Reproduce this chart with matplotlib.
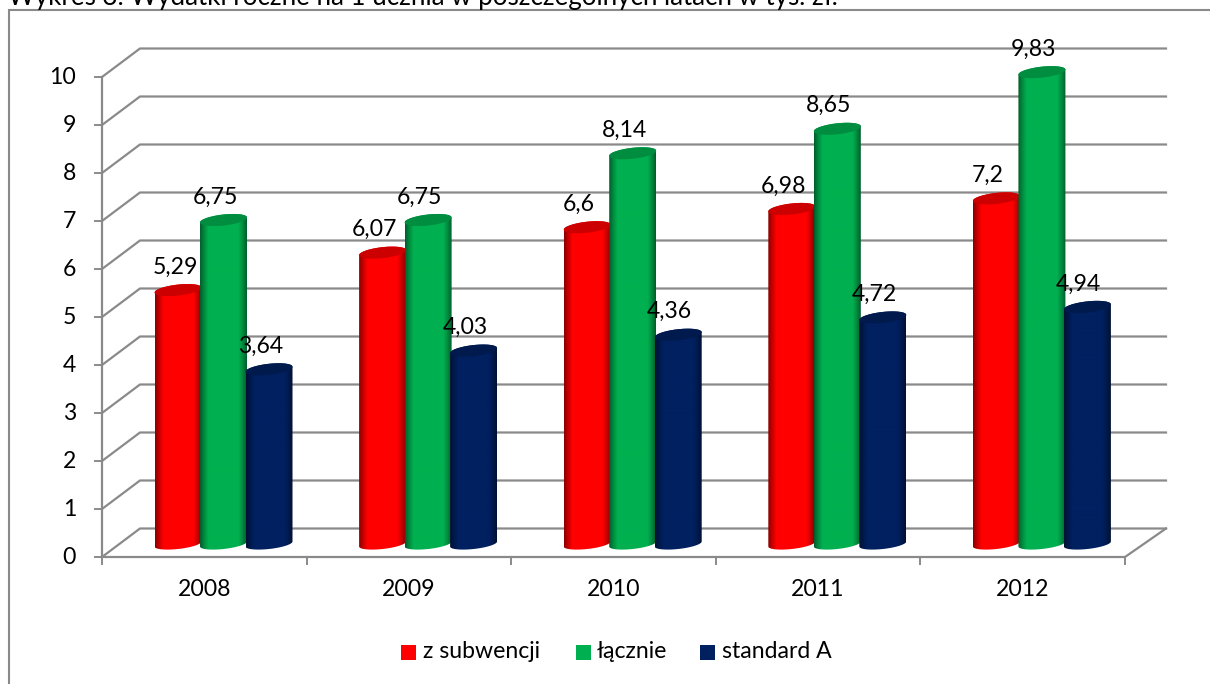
import numpy as np
import matplotlib
matplotlib.use('Agg')
import matplotlib.pyplot as plt
from matplotlib.path import Path
from matplotlib.patches import PathPatch, Polygon, Rectangle

years = ['2008', '2009', '2010', '2011', '2012']
subwencja = [5.29, 6.07, 6.6, 6.98, 7.2]
lacznie = [6.75, 6.75, 8.14, 8.65, 9.83]
standard = [3.64, 4.03, 4.36, 4.72, 4.94]
value_labels = [['5,29', '6,07', '6,6', '6,98', '7,2'],
                ['6,75', '6,75', '8,14', '8,65', '9,83'],
                ['3,64', '4,03', '4,36', '4,72', '4,94']]
series_names = ['z subwencji', 'łącznie', 'standard A']
colors = ['#ff0000', '#00b050', '#002060']
y_ticks = list(range(0, 11))
title = 'Wykres 3. Wydatki roczne na 1 ucznia w poszczególnych latach w tys. zł.'

W, H = 1210, 684
GRAY = '#8a8a8a'
plt.rcParams['font.family'] = ['Lato', 'DejaVu Sans']
FS = 16.6

fig = plt.figure(figsize=(W / 100, H / 100), dpi=100)
# axes = front plane of the 3d box
ax = fig.add_axes([102 / W, 1 - 557 / H, 1023 / W, 480 / H])
ax.set_xlim(0, 5)
ax.set_ylim(0, 10)
ax.axis('off')

px = 5 / 1023    # one pixel in x data units
py = 10 / 480    # one pixel in y data units
depth_y = 28.5 * py


def shade(color, f):
    return np.array(matplotlib.colors.to_rgb(color)) * f


def cylinder(x0, val, color):
    w = 47 * px
    cx = x0 + w / 2
    base = 13 * py
    t = np.linspace(0, 2 * np.pi, 80)
    ex = cx + w / 2 * np.cos(t)
    top = val + base + 5.5 * py * np.sin(t) + 2.5 * py * np.cos(t)

    # side of the cylinder, horizontal gradient clipped to the outline
    lower = t[t >= np.pi]
    xs = cx + w / 2 * np.cos(lower)
    ys = base + 5 * py * np.sin(lower) + 2.5 * py * np.cos(lower)
    upper = t[t <= np.pi]
    xu = cx + w / 2 * np.cos(upper)
    yu = val + base + 5.5 * py * np.sin(upper) + 2.5 * py * np.cos(upper)
    outline = Path(np.column_stack([np.r_[xs, xu], np.r_[ys, yu]]))

    g = np.linspace(-1, 1, 47)
    f = 0.55 + 0.45 * np.minimum(1, (1 - g ** 2) * 1.7)
    img = np.outer(f, shade(color, 1)).reshape(1, 47, 3)
    im = ax.imshow(img, extent=[cx - w / 2, cx + w / 2, base - 6 * py, val + base + 6 * py],
                   aspect='auto', zorder=5, interpolation='bilinear')
    patch = PathPatch(outline, fc='none', ec='none', transform=ax.transData)
    ax.add_patch(patch)
    im.set_clip_box(fig.bbox)
    im.set_clip_path(patch)
    ax.add_patch(Polygon(np.column_stack([ex, top]), fc=shade(color, 0.8), ec='none', zorder=5,
                         clip_on=False))
    ax.set_xlim(0, 5)
    ax.set_ylim(0, 10)


# back wall gridlines and wall diagonals
for v in y_ticks:
    ax.plot([0, 38 * px, 5 + 41 * px], [v, v + depth_y, v + depth_y],
            color=GRAY, lw=1.6, clip_on=False, zorder=1)
    ax.plot([-7 * px, 0], [v, v], color=GRAY, lw=1.4, clip_on=False, zorder=1)
    ax.text(-26 * px, v, str(v), ha='right', va='center', fontsize=FS, zorder=6)
ax.plot([0, 0], [0, 10], color=GRAY, lw=1.6, clip_on=False, zorder=1)
ax.plot([0, 5, 5 + 41 * px], [0, 0, depth_y], color=GRAY, lw=1.6, clip_on=False, zorder=1)
for i in range(6):
    ax.plot([i, i], [0, -7 * py], color=GRAY, lw=1.4, clip_on=False, zorder=1)

for s, vals in enumerate([subwencja, lacznie, standard]):
    for i, v in enumerate(vals):
        x0 = i + 52.5 * px + s * 45.5 * px
        cylinder(x0, v, colors[s])

for s, vals in enumerate([subwencja, lacznie, standard]):
    for i, v in enumerate(vals):
        x0 = i + 52.5 * px + s * 45.5 * px
        off = -2 if s == 0 and i == 0 else -8
        ax.text(x0 + (23 + off) * px, v + 36 * py, value_labels[s][i],
                ha='center', va='center', fontsize=FS, zorder=7, clip_on=False)

for i, y in enumerate(years):
    ax.text(i + 0.5, -33 * py, y, ha='center', va='center', fontsize=FS)

# legend
leg_x = [401, 576, 700]
txt_x = [423, 597, 722]
for s in range(3):
    fig.add_artist(Rectangle((leg_x[s] / W, 1 - 660 / H), 15 / W, 15 / H, fc=colors[s], ec='none',
                             transform=fig.transFigure))
    fig.text(txt_x[s] / W, 1 - 652 / H, series_names[s], ha='left', va='center', fontsize=FS)

# frame runs off the right and bottom of the picture, title is cut by the top edge
fig.add_artist(Rectangle((9 / W, -20 / H), (W + 20) / W, (H + 20 - 10) / H, fc='none', ec=GRAY, lw=1.5,
                         transform=fig.transFigure, zorder=-1))
fig.text(8 / W, 1 - 5 / H, title, ha='left', va='baseline', fontsize=18.6)

fig.savefig('out.png', dpi=100)
